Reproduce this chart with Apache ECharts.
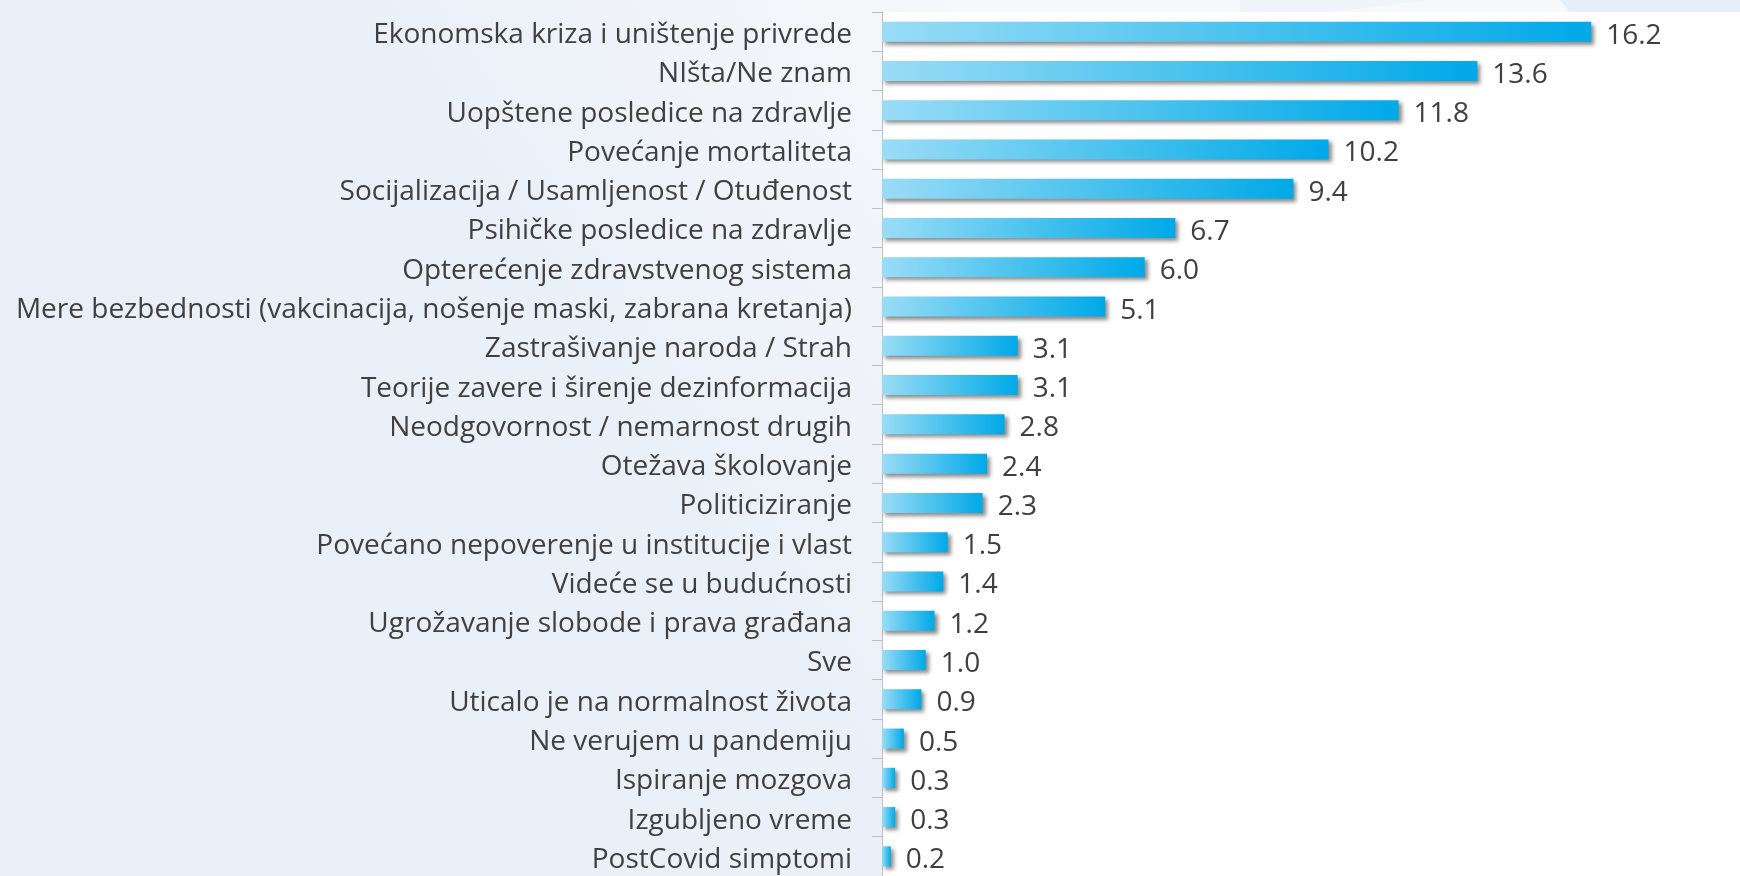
<!DOCTYPE html>
<html>
<head>
<meta charset="utf-8">
<script src="https://cdn.jsdelivr.net/npm/echarts@6/dist/echarts.min.js"></script>
<style>
  html, body { margin: 0; padding: 0; background: #eaf0f8; }
  #chart { width: 1740px; height: 876px; }
</style>
</head>
<body>
<div id="chart"></div>
<script>
const categories = [
  'Ekonomska kriza i uništenje privrede',
  'NIšta/Ne znam',
  'Uopštene posledice na zdravlje',
  'Povećanje mortaliteta',
  'Socijalizacija / Usamljenost / Otuđenost',
  'Psihičke posledice na zdravlje',
  'Opterećenje zdravstvenog sistema',
  'Mere bezbednosti (vakcinacija, nošenje maski, zabrana kretanja)',
  'Zastrašivanje naroda / Strah',
  'Teorije zavere i širenje dezinformacija',
  'Neodgovornost / nemarnost drugih',
  'Otežava školovanje',
  'Politiciziranje',
  'Povećano nepoverenje u institucije i vlast',
  'Videće se u budućnosti',
  'Ugrožavanje slobode i prava građana',
  'Sve',
  'Uticalo je na normalnost života',
  'Ne verujem u pandemiju',
  'Ispiranje mozgova',
  'Izgubljeno vreme',
  'PostCovid simptomi'
]
const values = [16.2, 13.6, 11.8, 10.2, 9.4, 6.7, 6.0, 5.1, 3.1, 3.1, 2.8, 2.4, 2.3, 1.5, 1.4, 1.2, 1.0, 0.9, 0.5, 0.3, 0.3, 0.2]

const chart = echarts.init(document.getElementById('chart'))

// bar fill: light cyan on the left, strong blue on the right
const barFill = new echarts.graphic.LinearGradient(0, 0, 1, 0, [
  { offset: 0, color: '#9adcf6' },
  { offset: 0.5, color: '#4cc3ee' },
  { offset: 1, color: '#00a9e8' }
])

// slide background: blue at the lower left, paler toward the upper right
const pageBg = new echarts.graphic.LinearGradient(0, 0.7, 0.55, 0, [
  { offset: 0, color: '#e9eff8' },
  { offset: 0.55, color: '#eaf0f8' },
  { offset: 1, color: '#f6f8fa' }
])

chart.setOption({
  backgroundColor: pageBg,
  animation: false,
  graphic: [
    {
      type: 'polygon',
      silent: true,
      shape: { points: [[1240, 0], [1430, 0], [1330, 12], [1240, 12]] },
      style: { fill: '#f1f5fa' }
    },
    {
      type: 'polygon',
      silent: true,
      shape: { points: [[1560, 0], [1740, 0], [1740, 12], [1570, 12]] },
      style: { fill: '#e6eff9' }
    }
  ],
  grid: {
    left: 882,
    top: 12,
    right: 0,
    bottom: 0,
    show: true,
    backgroundColor: '#ffffff',
    borderWidth: 0
  },
  xAxis: {
    type: 'value',
    min: 0,
    max: 19.6,
    show: false
  },
  yAxis: {
    type: 'category',
    inverse: true,
    data: categories,
    axisLine: { show: true, lineStyle: { color: '#bfbfbf', width: 1 } },
    axisTick: { show: true, length: 10, lineStyle: { color: '#bfbfbf' } },
    axisLabel: {
      margin: 30,
      // rich token so the top padding nudges the text down a little
      formatter: v => '{c|' + v + '}',
      rich: {
        c: {
          fontFamily: 'Open Sans',
          fontSize: 28,
          color: '#404040',
          padding: [7, 0, 0, 0]
        }
      }
    }
  },
  series: [{
    type: 'bar',
    data: values,
    barWidth: 20,
    itemStyle: {
      color: barFill,
      shadowColor: 'rgba(0,0,0,0.45)',
      shadowBlur: 4,
      shadowOffsetX: 3,
      shadowOffsetY: 3
    },
    label: {
      show: true,
      position: 'right',
      distance: 15,
      offset: [0, 4],
      formatter: p => p.value.toFixed(1),
      fontFamily: 'Open Sans',
      fontSize: 28,
      color: '#404040'
    }
  }]
})
</script>
</body>
</html>
